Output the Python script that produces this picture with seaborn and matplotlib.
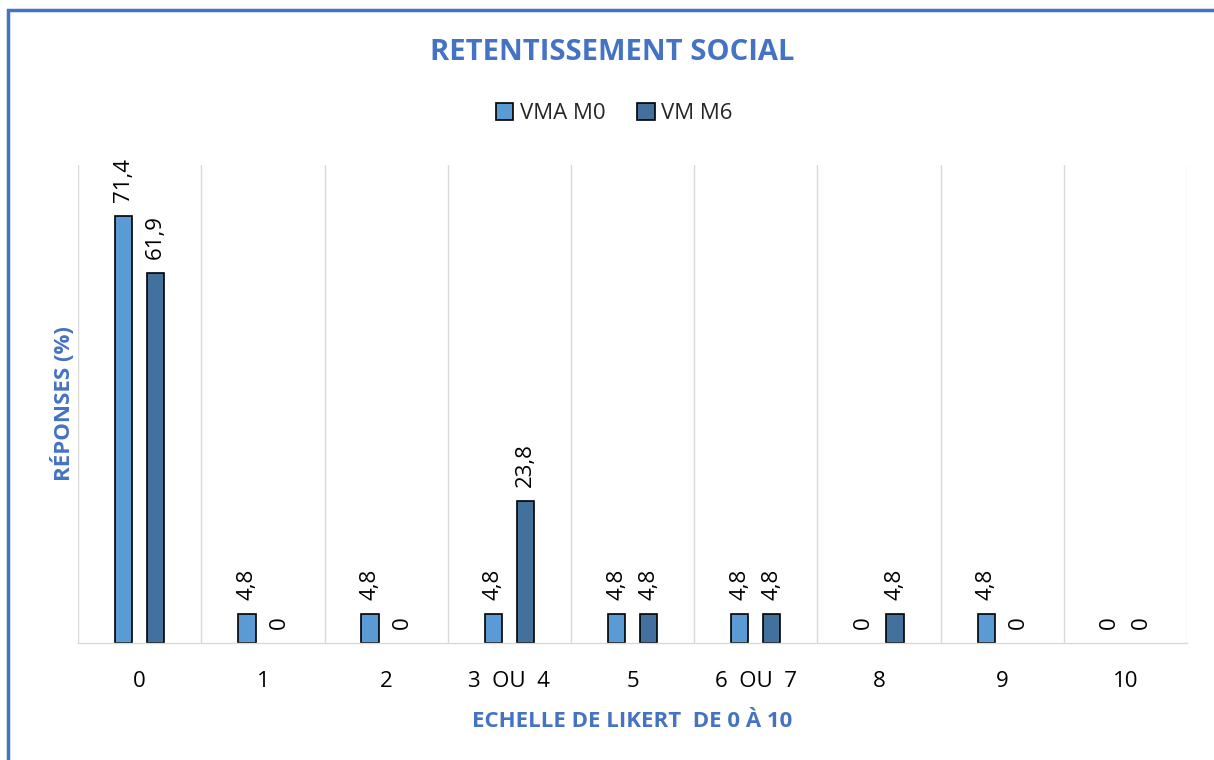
import pandas as pd
import numpy as np
import matplotlib.pyplot as plt
import seaborn as sns
from matplotlib.patches import Rectangle

# Données
categories = ['0', '1', '2', '3  OU  4', '5', '6  OU  7', '8', '9', '10']
vma_m0 = [71.4, 4.8, 4.8, 4.8, 4.8, 4.8, 0, 4.8, 0]
vm_m6 = [61.9, 0, 0, 23.8, 4.8, 4.8, 4.8, 0, 0]
series = ['VMA M0', 'VM M6']

BLUE_TXT = '#4472C4'
colors = ['#5B9BD5', '#41719C']

df = pd.DataFrame({
    'Echelle': categories * 2,
    'Serie': [series[0]] * len(categories) + [series[1]] * len(categories),
    'Valeur': vma_m0 + vm_m6,
})

sns.set_style('white')
plt.rcParams['font.family'] = ['Open Sans', 'DejaVu Sans']

fig = plt.figure(figsize=(12.14, 7.6), dpi=100)
ax = fig.add_axes([0.0643, 0.1539, 0.9135, 0.629])

sns.barplot(data=df, x='Echelle', y='Valeur', hue='Serie', order=categories,
            hue_order=series, palette=colors, width=0.52, gap=0.46,
            edgecolor='black', linewidth=1.2, saturation=1, ax=ax, legend=True)

for cont, vals in zip(ax.containers, [vma_m0, vm_m6]):
    for p in cont.patches:
        if p.get_height() == 0:
            p.set_linewidth(0)
    labs = [f"{v:g}".replace('.', ',') for v in vals]
    ax.bar_label(cont, labels=labs, rotation=90, padding=10, fontsize=16, color='black')

ax.set_xlim(-0.5, len(categories) - 0.5)
ax.set_ylim(0, 80)
ax.set_yticks([])
ax.set_xticks(np.arange(-0.5, len(categories)), minor=True)
ax.tick_params(axis='x', which='major', length=0, labelsize=16, pad=20, colors='black')
ax.tick_params(axis='x', which='minor', length=10, width=1, color='#D9D9D9', direction='out')
ax.grid(True, axis='x', which='minor', color='#D9D9D9', linewidth=1)
ax.grid(False, axis='x', which='major')
for side in ['top', 'right', 'left']:
    ax.spines[side].set_visible(False)
ax.spines['bottom'].set_color('#D9D9D9')
ax.spines['bottom'].set_linewidth(1)

ax.set_xlabel('ECHELLE DE LIKERT  DE 0 À 10', fontsize=16, fontweight='bold',
              color=BLUE_TXT, labelpad=14)
ax.set_ylabel('RÉPONSES (%)', fontsize=16, fontweight='bold', color=BLUE_TXT, labelpad=2)

handles, labels = ax.get_legend_handles_labels()
ax.get_legend().remove()
fig.legend(handles, labels, loc='center', bbox_to_anchor=(0.506, 0.851), ncol=2,
           frameon=False, fontsize=16, handlelength=0.8, handleheight=0.8,
           handletextpad=0.3, columnspacing=1.4)

fig.text(0.504, 0.931, 'RETENTISSEMENT SOCIAL', ha='center', va='center',
         fontsize=21, fontweight='bold', color=BLUE_TXT)

# cadre bleu
fig.add_artist(Rectangle((8 / 1214, -0.2), 1.2, 1.2 - 10 / 760, transform=fig.transFigure,
                         fill=False, edgecolor=BLUE_TXT, linewidth=2.5))

fig.savefig('out.png', dpi=100)
